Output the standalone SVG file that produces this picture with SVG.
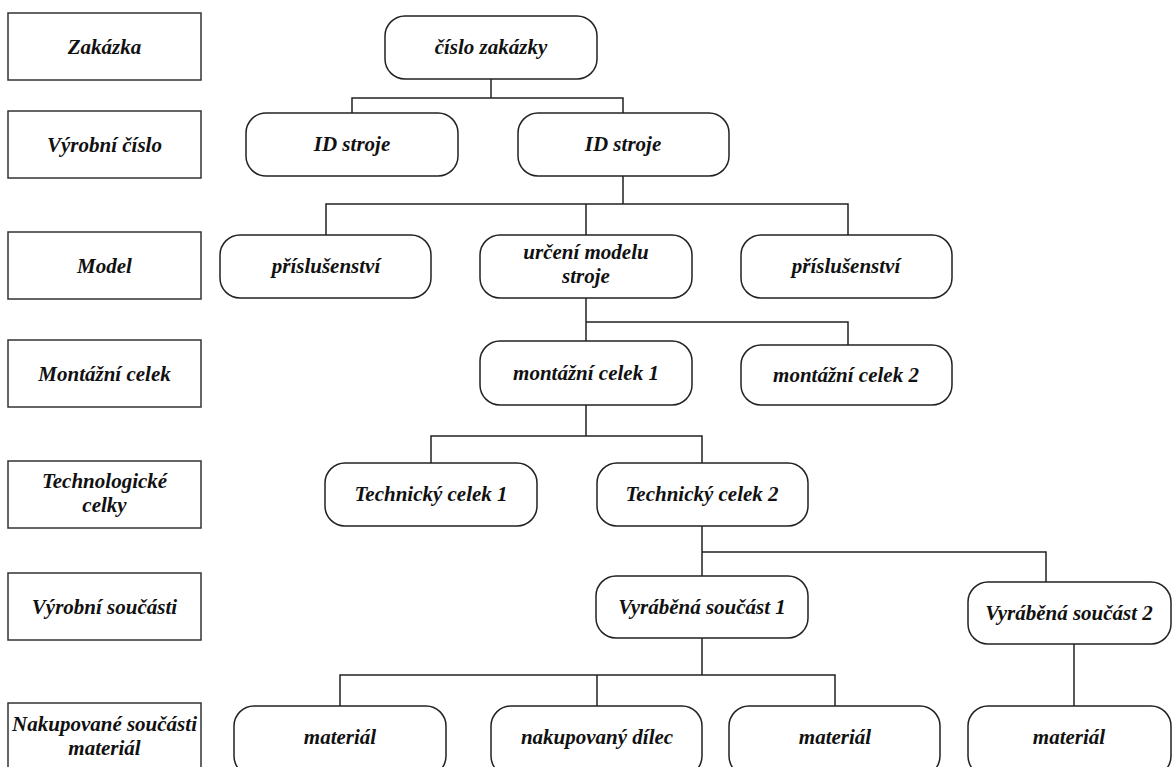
<svg xmlns="http://www.w3.org/2000/svg" width="1173" height="767" viewBox="0 0 1173 767">
<style>
.lbl{fill:#fff;stroke:#333;stroke-width:1.5}
.nd{fill:#fff;stroke:#222;stroke-width:1.5}
text{font-family:"Liberation Serif","Times New Roman",serif;font-size:21px;font-weight:bold;font-style:italic;fill:#111;text-anchor:middle}
.cn path{fill:none;stroke:#222;stroke-width:1.5}
</style>
<rect width="1173" height="767" fill="#fff"/>
<g class="cn">
<path d="M491 79V98M352 113V98H623V113"/>
<path d="M623 176V204M326 235V204H848V235M586 204V235"/>
<path d="M586 298V341M586 322H848V345"/>
<path d="M586 405V436M431 463V436H702V463"/>
<path d="M702 526V576M702 552H1046V582"/>
<path d="M702 638V675M340 706V675H835V706M597 675V706"/>
<path d="M1074 642V706"/>
</g>
<g id="l1"><rect class="lbl" x="8" y="13" width="193" height="67"/><text x="104.5" y="54">Zakázka</text></g>
<g id="l2"><rect class="lbl" x="8" y="111" width="193" height="67"/><text x="104.5" y="152">Výrobní číslo</text></g>
<g id="l3"><rect class="lbl" x="8" y="232" width="193" height="67"/><text x="104.5" y="273">Model</text></g>
<g id="l4"><rect class="lbl" x="8" y="340" width="193" height="67"/><text x="104.5" y="381">Montážní celek</text></g>
<g id="l5"><rect class="lbl" x="8" y="461" width="193" height="67"/><text x="104.5" y="488">Technologické</text><text x="104.5" y="512">celky</text></g>
<g id="l6"><rect class="lbl" x="8" y="573" width="193" height="67"/><text x="104.5" y="614">Výrobní součásti</text></g>
<g id="l7"><rect class="lbl" x="8" y="703" width="193" height="70"/><text x="104.5" y="731">Nakupované součásti</text><text x="104.5" y="755">materiál</text></g>
<g id="n1"><rect class="nd" x="385" y="16" width="212" height="63" rx="20"/><text x="491" y="54">číslo zakázky</text></g>
<g id="n2"><rect class="nd" x="246" y="113" width="212" height="63" rx="20"/><text x="352" y="151">ID stroje</text></g>
<g id="n3"><rect class="nd" x="518" y="113" width="211" height="63" rx="20"/><text x="623" y="151">ID stroje</text></g>
<g id="n4"><rect class="nd" x="220" y="235" width="211" height="63" rx="20"/><text x="326" y="273">příslušenství</text></g>
<g id="n5"><rect class="nd" x="480" y="235" width="212" height="63" rx="20"/><text x="586" y="259">určení modelu</text><text x="586" y="283">stroje</text></g>
<g id="n6"><rect class="nd" x="741" y="235" width="211" height="63" rx="20"/><text x="846" y="273">příslušenství</text></g>
<g id="n7"><rect class="nd" x="480" y="341" width="212" height="64" rx="20"/><text x="586" y="380">montážní celek 1</text></g>
<g id="n8"><rect class="nd" x="741" y="345" width="211" height="60" rx="20"/><text x="846" y="382">montážní celek 2</text></g>
<g id="n9"><rect class="nd" x="325" y="463" width="212" height="63" rx="20"/><text x="431" y="501">Technický celek 1</text></g>
<g id="n10"><rect class="nd" x="597" y="463" width="211" height="63" rx="20"/><text x="702" y="501">Technický celek 2</text></g>
<g id="n11"><rect class="nd" x="596" y="576" width="212" height="62" rx="20"/><text x="702" y="614">Vyráběná součást 1</text></g>
<g id="n12"><rect class="nd" x="968" y="582" width="203" height="62" rx="20"/><text x="1069" y="620">Vyráběná součást 2</text></g>
<g id="n13"><rect class="nd" x="234" y="706" width="212" height="70" rx="20"/><text x="340" y="744">materiál</text></g>
<g id="n14"><rect class="nd" x="491" y="706" width="211" height="70" rx="20"/><text x="597" y="744">nakupovaný dílec</text></g>
<g id="n15"><rect class="nd" x="729" y="706" width="211" height="70" rx="20"/><text x="835" y="744">materiál</text></g>
<g id="n16"><rect class="nd" x="968" y="706" width="203" height="70" rx="20"/><text x="1069" y="744">materiál</text></g>
</svg>
